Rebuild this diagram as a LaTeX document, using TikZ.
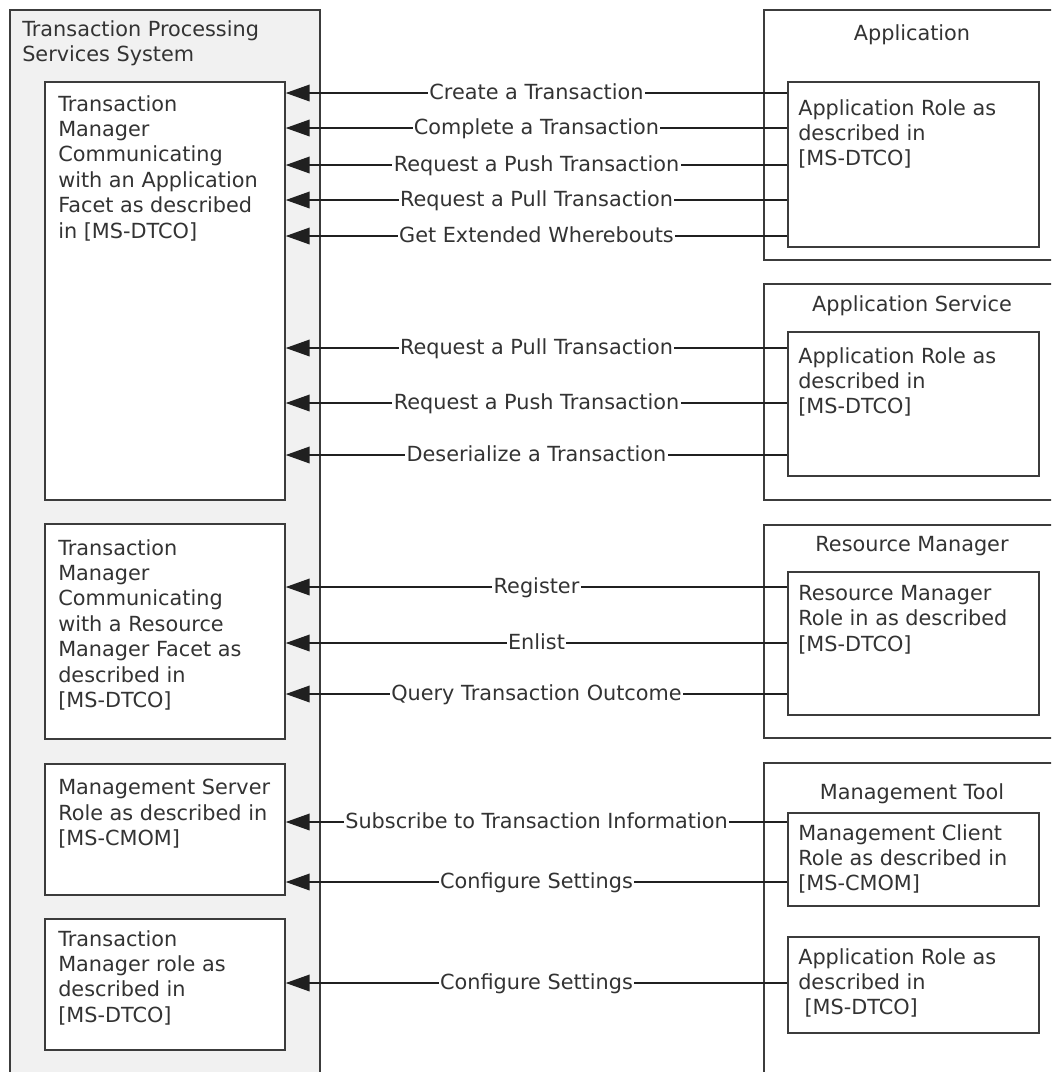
\documentclass[tikz,border=0pt]{standalone}
\usepackage{fontspec}
\setmainfont{DejaVu Sans}
\usetikzlibrary{arrows.meta,fit}

\definecolor{ink}{HTML}{333333}
\definecolor{edge}{HTML}{3C3C3C}
\definecolor{panel}{HTML}{F1F1F1}
\definecolor{wire}{HTML}{202020}

\newcommand{\txtfont}{\fontsize{15.6}{19.05}\selectfont}

\tikzset{
  frame/.style={draw=edge, line width=1.1pt, inner sep=0pt},
  sysframe/.style={frame, fill=panel},
  rolebox/.style={frame, fill=white},
  body/.style={anchor=north west, inner sep=0pt, align=left, text=ink, font=\txtfont},
  heading/.style={anchor=base, inner sep=0pt, text=ink, font=\txtfont},
  msg/.style={draw=wire, line width=1.2pt, -{Triangle[length=18pt,width=12.5pt]}},
  msglabel/.style={fill=white, inner xsep=1pt, inner ysep=0pt, text=ink, font=\txtfont,
                   text height=12pt, text depth=3pt},
}

\begin{document}
\begin{tikzpicture}[x=0.75pt,y=-0.75pt]
  \useasboundingbox (0,0) rectangle (1051,1072);
  \fill[white] (0,0) rectangle (1051,1072);
  \clip (0,0) rectangle (1051,1072);

  % transaction processing services system
  \node[sysframe, fit={(10,10) (320,1090)}] (tps) {};
  \node[body] (tpsText) at (22,20) {Transaction Processing\\Services System};

  \node[rolebox, fit={(45,82) (285,500)}] (tmApp) {};
  \node[body] (tmAppText) at (58,95) {Transaction\\Manager\\Communicating\\with an Application\\Facet as described\\in [MS-DTCO]};

  \node[rolebox, fit={(45,524) (285,739)}] (tmRM) {};
  \node[body] (tmRMText) at (58,539) {Transaction\\Manager\\Communicating\\with a Resource\\Manager Facet as\\described in\\{[MS-DTCO]}};

  \node[rolebox, fit={(45,764) (285,895)}] (mgmtSrv) {};
  \node[body] (mgmtSrvText) at (58,779) {Management Server\\Role as described in\\{[MS-CMOM]}};

  \node[rolebox, fit={(45,919) (285,1050)}] (tmRole) {};
  \node[body] (tmRoleText) at (58,930) {Transaction\\Manager role as\\described in\\{[MS-DTCO]}};

  % external participants
  \node[frame, fit={(764,10) (1062,260)}] (app) {};
  \node[heading] (appTitle) at (912,40.6) {Application};
  \node[rolebox, fit={(788,82) (1039,247)}] (appRole) {};
  \node[body] (appRoleText) at (798,99) {Application Role as\\described in\\{[MS-DTCO]}};

  \node[frame, fit={(764,284) (1062,500)}] (appSvc) {};
  \node[heading] (appSvcTitle) at (912,311.6) {Application Service};
  \node[rolebox, fit={(788,332) (1039,476)}] (appSvcRole) {};
  \node[body] (appSvcRoleText) at (798,347) {Application Role as\\described in\\{[MS-DTCO]}};

  \node[frame, fit={(764,525) (1062,738)}] (rm) {};
  \node[heading] (rmTitle) at (912,551.6) {Resource Manager};
  \node[rolebox, fit={(788,572) (1039,715)}] (rmRole) {};
  \node[body] (rmRoleText) at (798,585) {Resource Manager\\Role in as described\\{[MS-DTCO]}};

  \node[frame, fit={(764,763) (1062,1090)}] (mgmtTool) {};
  \node[heading] (mgmtToolTitle) at (912,799.6) {Management Tool};
  \node[rolebox, fit={(788,813) (1039,906)}] (mgmtClient) {};
  \node[body] (mgmtClientText) at (798,824) {Management Client\\Role as described in\\{[MS-CMOM]}};
  \node[rolebox, fit={(788,937) (1039,1033)}] (appRole2) {};
  \node[body] (appRole2Text) at (798,948) {Application Role as\\described in\\\hspace{0.3em}{[MS-DTCO]}};

  % messages
  \draw[msg] (appRole.west |- 0,93)  -- node[msglabel] {Create a Transaction}      (tmApp.east |- 0,93);
  \draw[msg] (appRole.west |- 0,128) -- node[msglabel] {Complete a Transaction}    (tmApp.east |- 0,128);
  \draw[msg] (appRole.west |- 0,165) -- node[msglabel] {Request a Push Transaction} (tmApp.east |- 0,165);
  \draw[msg] (appRole.west |- 0,200) -- node[msglabel] {Request a Pull Transaction} (tmApp.east |- 0,200);
  \draw[msg] (appRole.west |- 0,236) -- node[msglabel] {Get Extended Wherebouts}   (tmApp.east |- 0,236);

  \draw[msg] (appSvcRole.west |- 0,348) -- node[msglabel] {Request a Pull Transaction} (tmApp.east |- 0,348);
  \draw[msg] (appSvcRole.west |- 0,403) -- node[msglabel] {Request a Push Transaction} (tmApp.east |- 0,403);
  \draw[msg] (appSvcRole.west |- 0,455) -- node[msglabel] {Deserialize a Transaction}  (tmApp.east |- 0,455);

  \draw[msg] (rmRole.west |- 0,587) -- node[msglabel] {Register}                   (tmRM.east |- 0,587);
  \draw[msg] (rmRole.west |- 0,643) -- node[msglabel] {Enlist}                     (tmRM.east |- 0,643);
  \draw[msg] (rmRole.west |- 0,694) -- node[msglabel] {Query Transaction Outcome}  (tmRM.east |- 0,694);

  \draw[msg] (mgmtClient.west |- 0,822) -- node[msglabel] {Subscribe to Transaction Information} (mgmtSrv.east |- 0,822);
  \draw[msg] (mgmtClient.west |- 0,882) -- node[msglabel] {Configure Settings} (mgmtSrv.east |- 0,882);
  \draw[msg] (appRole2.west |- 0,983)   -- node[msglabel] {Configure Settings} (tmRole.east |- 0,983);
\end{tikzpicture}
\end{document}
